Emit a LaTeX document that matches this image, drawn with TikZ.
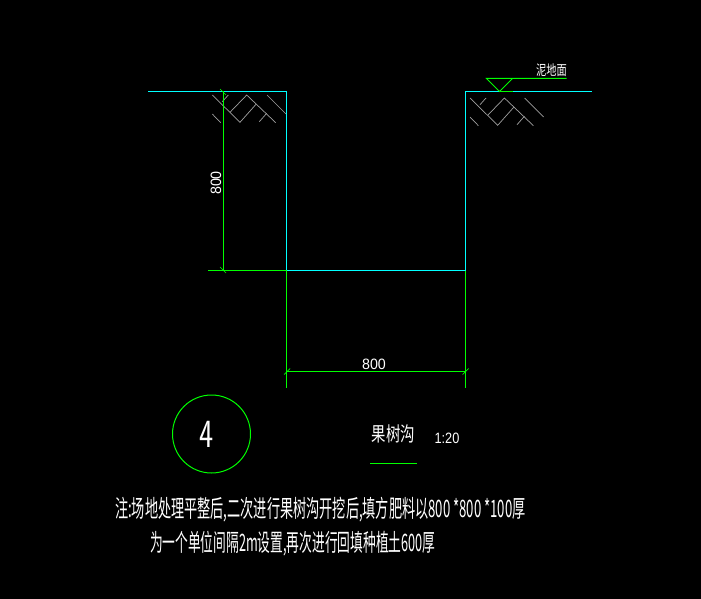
\documentclass[tikz,border=0pt]{standalone}
\usepackage{fontspec}
\newfontfamily\cjk{Noto Sans CJK SC}
\newfontfamily\latinfont{Liberation Sans}
\definecolor{cadgreen}{RGB}{0,255,0}
\definecolor{cadcyan}{RGB}{0,255,255}
\tikzset{
    wall/.style={cadcyan, line width=1pt},
    dimline/.style={cadgreen, line width=1pt},
    hatch/.style={gray!75, line width=0.7pt},
    cadtext/.style={white, inner sep=0pt, transform shape},
}
\begin{document}
\begin{tikzpicture}[x=1pt,y=-1pt]
    \fill[black] (0,0) rectangle (701,599);
    \useasboundingbox (0,0) rectangle (701,599);
    % walls
    \draw[wall] (148,91.5) -- (286.5,91.5) -- (286.5,270.5) -- (465.5,270.5) -- (465.5,91.5) -- (591.5,91.5);
    % hatching left and right
    \foreach \hx in {0,257.7}{
        \begin{scope}[xshift=\hx pt, yshift=-3pt*\hx/257.7]
            \draw[hatch] (212.3,95) -- (240,122.3) -- (256,104.3);
            \draw[hatch] (228.3,95) -- (222.3,101.7);
            \draw[hatch] (230,112.3) -- (246.7,95) -- (275.7,122.7);
            \draw[hatch] (266.7,113.3) -- (259.3,121.7);
            \draw[hatch] (267,95) -- (286,114);
            \draw[hatch] (212.3,114) -- (220.7,122.7);
        \end{scope}
    }
    % dimensions
    \draw[dimline] (223.5,91.5) -- (223.5,270.5);
    \draw[dimline] (208,270.5) -- (286.5,270.5);
    \draw[dimline] (286.5,270.5) -- (286.5,387.5);
    \draw[dimline] (465.5,270.5) -- (465.5,387.5);
    \draw[dimline] (286.5,371.5) -- (465.5,371.5);
    \foreach \tx/\ty in {223/92,223/270}{
        \draw[dimline, line width=0.7pt] (\tx-3,\ty-3) -- (\tx+3,\ty+3);
    }
    \foreach \tx/\ty in {287/371.5,465.5/371.5}{
        \draw[dimline, line width=0.7pt] (\tx-3,\ty+3) -- (\tx+3,\ty-3);
    }
    \node[cadtext, font=\latinfont\fontsize{15}{15}\selectfont, rotate=90, xscale=0.95] (dimleft) at (216,183) {800};
    \node[cadtext, font=\latinfont\fontsize{15}{15}\selectfont, xscale=0.95] (dimbottom) at (374,364) {800};
    % ground mark
    \draw[dimline] (566.5,78.5) -- (486.5,78.5) -- (499.5,91.5) -- (512.5,78.5);
    \draw[dimline] (499.5,91.5) -- (512.5,91.5);
    \node[cadtext, font=\cjk\fontsize{14}{14}\selectfont, xscale=0.73] (groundlabel) at (551.5,70) {泥地面};
    % title
    \node[circle, draw=cadgreen, line width=1pt, minimum size=78pt, inner sep=0pt] (detailmark) at (211.5,434) {};
    \node[cadtext, font=\sffamily\fontsize{40}{40}\selectfont, xscale=0.75] (detailnum) at (206.5,434) {4};
    \node[cadtext, font=\cjk\fontsize{20}{20}\selectfont, xscale=0.72] (titletext) at (393.5,433.5) {果树沟};
    \node[cadtext, font=\latinfont\fontsize{15}{15}\selectfont, xscale=0.85] (scaletext) at (447,438) {1:20};
    \draw[dimline] (370,463.5) -- (417,463.5);
    % note
    \node[cadtext, anchor=west, font=\cjk\fontsize{24}{24}\selectfont, xscale=0.548] (noteone) at (115,510) {注:场地处理平整后,二次进行果树沟开挖后,填方肥料以800 *800 *100厚};
    \node[cadtext, anchor=west, font=\cjk\fontsize{24}{24}\selectfont, xscale=0.53] (notetwo) at (150,543.5) {为一个单位间隔2m设置,再次进行回填种植土600厚};
\end{tikzpicture}
\end{document}
